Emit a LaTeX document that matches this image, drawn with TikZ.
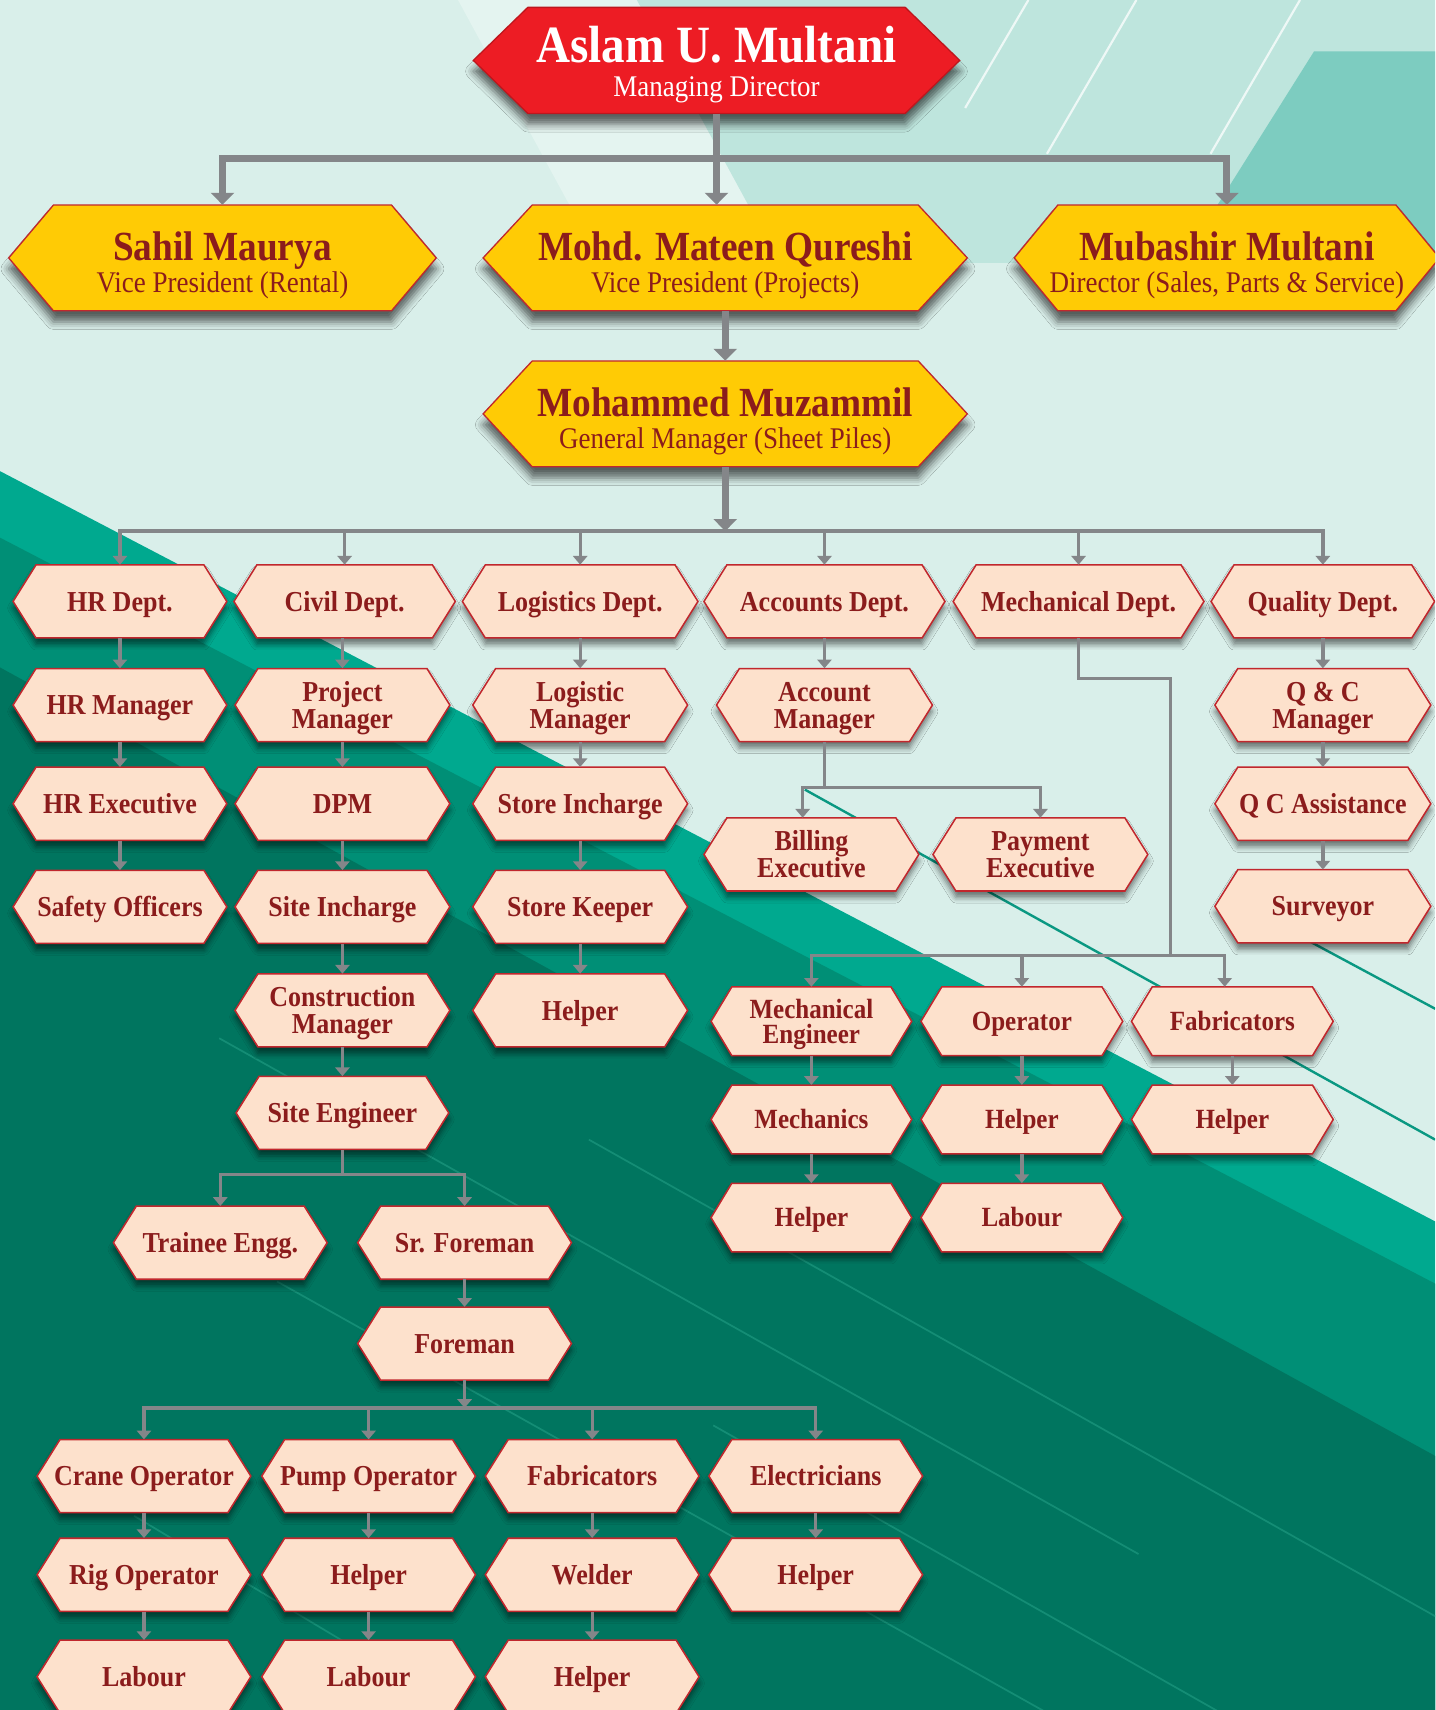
\documentclass[tikz,border=0pt]{standalone}
\usepackage{fontspec}
\setmainfont{Liberation Serif}[FakeStretch=0.9]
\usetikzlibrary{arrows.meta,shadows.blur,calc}

\definecolor{mint}{HTML}{D9EFEA}
\definecolor{mintlight}{HTML}{E4F4F0}
\definecolor{paleteal}{HTML}{BEE5DD}
\definecolor{midteal}{HTML}{7DCCC0}
\definecolor{brteal}{HTML}{00A98F}
\definecolor{mdteal}{HTML}{008F76}
\definecolor{dkteal}{HTML}{00755F}
\definecolor{dlinec}{HTML}{148D75}
\definecolor{tlinec}{HTML}{0A9882}
\definecolor{wlinec}{HTML}{EEF8F6}
\definecolor{peach}{HTML}{FDE1CC}
\definecolor{bord}{HTML}{C1272D}
\definecolor{txtred}{HTML}{8B1C1C}
\definecolor{gold}{HTML}{FFCB05}
\definecolor{topred}{HTML}{ED1C24}
\definecolor{connc}{HTML}{848689}

\newcommand\nfont{\fontsize{26.5}{24.5}\selectfont\bfseries}
\newcommand\mfont{\fontsize{25.5}{23}\selectfont\bfseries}
\newcommand\twoline[3][24.5pt]{\vtop{\baselineskip=#1\lineskiplimit=-100pt\lineskip=0pt\halign{\hfil##\hfil\cr#2\cr#3\cr}}}

\tikzset{
  hexA/.style={fill=peach, draw=bord, line width=1.4pt,
    blur shadow={shadow xshift=0pt, shadow yshift=-6pt, shadow blur radius=5pt, shadow opacity=50}},
  hexY/.style={fill=gold, draw=bord, line width=1.2pt,
    blur shadow={shadow xshift=0pt, shadow yshift=-10pt, shadow blur radius=7pt, shadow opacity=60}},
  hexR/.style={fill=topred, draw=topred!80!black, line width=1.2pt,
    blur shadow={shadow xshift=0pt, shadow yshift=-10pt, shadow blur radius=7pt, shadow opacity=60}},
  box/.style={rectangle, inner sep=0pt},
  lbl/.style={box, text=txtred, font=\nfont, text height=17.8pt, text depth=0pt},
  lbltwo/.style={lbl, text depth=24.5pt},
  mlbl/.style={lbl, font=\mfont, text height=17.1pt},
  mlbltwo/.style={mlbl, text depth=23pt},
  bigname/.style={box, anchor=base, text=txtred, font=\fontsize{38}{40}\selectfont\bfseries},
  bigsub/.style={box, anchor=base, text=txtred, font=\fontsize{27.5}{30}\selectfont},
  thinc/.style={draw=connc, line width=3pt},
  heavyc/.style={draw=connc, line width=6.5pt},
  smallhead/.tip={Triangle[width=13pt,length=8pt]},
  bighead/.tip={Triangle[width=21pt,length=11pt]},
  dline/.style={draw=dlinec, line width=1.6pt},
  tline/.style={draw=tlinec, line width=2.2pt},
  wline/.style={draw=wlinec, line width=2pt},
}

% style, x, y, w, h, slant
\newcommand\hexpath[6]{%
  \path[#1] ({#2-#4/2},#3) -- ({#2-#4/2+#6},{#3-#5/2}) -- ({#2+#4/2-#6},{#3-#5/2})
    -- ({#2+#4/2},#3) -- ({#2+#4/2-#6},{#3+#5/2}) -- ({#2-#4/2+#6},{#3+#5/2}) -- cycle;}
\newcommand\hexS[5]{%
  \hexpath{hexA}{#2}{#3}{#4}{67}{21}
  \node[lbl, minimum width=#4pt, minimum height=67pt] (#1) at (#2,#3) {#5};}
\newcommand\hexT[6]{%
  \hexpath{hexA}{#2}{#3}{#4}{67}{21}
  \node[lbltwo, minimum width=#4pt, minimum height=67pt] (#1) at (#2,#3) {\twoline{#5}{#6}};}
\newcommand\hexM[5]{%
  \hexpath{hexA}{#2}{#3}{#4}{63}{19}
  \node[mlbl, minimum width=#4pt, minimum height=63pt] (#1) at (#2,#3) {#5};}

\begin{document}
\begin{tikzpicture}[x=1pt,y=-1pt]
\useasboundingbox (0,0) rectangle (1316,1568);
\clip (0,0) rectangle (1316,1568);

% ---------- background ----------
\fill[mint] (0,0) rectangle (1316,1568);
\fill[mintlight] (420,0) -- (584,0) -- (715,241) -- (551,241) -- cycle;
\fill[paleteal] (584,0) -- (1316,0) -- (1316,241) -- (715,241) -- cycle;
\fill[midteal] (1205,47) -- (1316,47) -- (1316,241) -- (1083,241) -- cycle;
\draw[wline] (885,99) -- (943,0);
\draw[wline] (960,141) -- (1042,0);
\draw[wline] (1110,141) -- (1192,0);
\fill[brteal] (0,432) -- (1316,1120) -- (1316,1568) -- (0,1568) -- cycle;
\fill[mdteal] (0,493) -- (1316,1177) -- (1316,1568) -- (0,1568) -- cycle;
\fill[dkteal] (0,612) -- (1316,1335) -- (1316,1568) -- (0,1568) -- cycle;
\draw[dline] (201,952) -- (1044,1425);
\draw[dline] (254,1175) -- (1316,1770);
\draw[dline] (654,1307) -- (1316,1682);
\draw[dline] (540,1045) -- (1316,1482);
\draw[dline] (123,1390) -- (420,1568);
\draw[tline] (738,724) -- (1316,1045);
\draw[tline] (1180,852) -- (1316,925);

% ---------- top level ----------
\hexpath{hexR}{657}{55.4}{446}{97.3}{50}
\node[box, minimum width=446pt, minimum height=97.3pt] (aslam) at (657,55.4) {};
\node[box, anchor=base, text=white, font=\fontsize{48}{50}\selectfont\bfseries] (aslamN) at ($(aslam.center)+(0,2)$) {Aslam U. Multani};
\node[box, anchor=base, text=white, font=\fontsize{27.5}{30}\selectfont] (aslamS) at ($(aslam.center)+(0,33)$) {Managing Director};

\hexpath{hexY}{204}{236.5}{392}{97}{41}
\node[box, minimum width=392pt, minimum height=97pt] (sahil) at (204,236.5) {};
\node[bigname] (sahilN) at ($(sahil.center)+(0,2.5)$) {Sahil Maurya};
\node[bigsub] (sahilS) at ($(sahil.center)+(0,32)$) {Vice President (Rental)};

\hexpath{hexY}{665}{236.5}{444}{97}{45}
\node[box, minimum width=444pt, minimum height=97pt] (qureshi) at (665,236.5) {};
\node[bigname] (qureshiN) at ($(qureshi.center)+(0,2.5)$) {Mohd. Mateen Qureshi};
\node[bigsub] (qureshiS) at ($(qureshi.center)+(0,32)$) {Vice President (Projects)};

\hexpath{hexY}{1125}{236.5}{390}{97}{40}
\node[box, minimum width=390pt, minimum height=97pt] (mub) at (1125,236.5) {};
\node[bigname] (mubN) at ($(mub.center)+(0,2.5)$) {Mubashir Multani};
\node[bigsub] (mubS) at ($(mub.center)+(0,32)$) {Director (Sales, Parts \& Service)};

\hexpath{hexY}{665}{379.5}{444}{97}{45}
\node[box, minimum width=444pt, minimum height=97pt] (gm) at (665,379.5) {};
\node[bigname] (gmN) at ($(gm.center)+(0,2.5)$) {Mohammed Muzammil};
\node[bigsub] (gmS) at ($(gm.center)+(0,32)$) {General Manager (Sheet Piles)};

% ---------- departments ----------
\hexS{hr}{110}{551.5}{196}{HR Dept.}
\hexS{civil}{316}{551.5}{203}{Civil Dept.}
\hexS{logi}{532}{551.5}{216}{Logistics Dept.}
\hexS{acc}{756}{551.5}{221}{Accounts Dept.}
\hexS{mech}{989}{551.5}{230}{Mechanical Dept.}
\hexS{qual}{1213}{551.5}{205}{Quality Dept.}

\hexS{hrm}{110}{646.5}{196}{HR Manager}
\hexT{pm}{314}{646.5}{197}{Project}{Manager}
\hexT{lm}{532}{646.5}{197}{Logistic}{Manager}
\hexT{am}{756}{646.5}{198}{Account}{Manager}
\hexT{qcm}{1213}{646.5}{198}{Q \& C}{Manager}

\hexS{hre}{110}{737}{196}{HR Executive}
\hexS{dpm}{314}{737}{197}{DPM}
\hexS{si}{532}{737}{197}{Store Incharge}
\hexS{qca}{1213}{737}{198}{Q C Assistance}

\hexT{bill}{744}{783.5}{197}{Billing}{Executive}
\hexT{pay}{954}{783.5}{197}{Payment}{Executive}

\hexS{safety}{110}{831.5}{196}{Safety Officers}
\hexS{sinc}{314}{831.5}{197}{Site Incharge}
\hexS{skeep}{532}{831.5}{197}{Store Keeper}
\hexS{surv}{1213}{831}{198}{Surveyor}

\hexT{cm}{314}{926.5}{197}{Construction}{Manager}
\hexS{lhelp}{532}{926.5}{197}{Helper}

\hexpath{hexA}{744}{936.5}{184}{63}{19}
\node[mlbltwo, minimum width=184pt, minimum height=63pt] (meng) at (744,936.5) {\twoline[23pt]{Mechanical}{Engineer}};
\hexM{mop}{937}{936.5}{185}{Operator}
\hexM{mfab}{1130}{936.5}{185}{Fabricators}
\hexM{mechs}{744}{1026.5}{184}{Mechanics}
\hexM{ophelp}{937}{1026.5}{185}{Helper}
\hexM{fabhelp}{1130}{1026.5}{185}{Helper}
\hexM{mhelper}{744}{1116.5}{184}{Helper}
\hexM{oplabour}{937}{1116.5}{185}{Labour}

\hexS{seng}{314}{1020.5}{195}{Site Engineer}
\hexS{trainee}{202}{1139.5}{196}{Trainee Engg.}
\hexS{srf}{426}{1139.5}{196}{Sr. Foreman}
\hexS{foreman}{426}{1232}{196}{Foreman}

\hexS{crane}{132}{1353.5}{196}{Crane Operator}
\hexS{pump}{338}{1353.5}{196}{Pump Operator}
\hexS{cfab}{543}{1353.5}{196}{Fabricators}
\hexS{elec}{748}{1353.5}{196}{Electricians}
\hexS{rig}{132}{1444}{196}{Rig Operator}
\hexS{phelp}{338}{1444}{196}{Helper}
\hexS{welder}{543}{1444}{196}{Welder}
\hexS{ehelp}{748}{1444}{196}{Helper}
\hexS{lab1}{132}{1537.5}{196}{Labour}
\hexS{lab2}{338}{1537.5}{196}{Labour}
\hexS{whelp}{543}{1537.5}{196}{Helper}

% ---------- connectors ----------
\coordinate (topbus) at (0,145);
\draw[heavyc, bighead-bighead] (sahil.north) -- (sahil.north |- topbus) -- (mub.north |- topbus) -- (mub.north);
\draw[heavyc, -bighead] (aslam.south) -- (aslam.south |- qureshi.north);
\draw[heavyc, -bighead] (qureshi.south) -- (gm.north);

\coordinate (deptbus) at (0,487);
\draw[thinc, smallhead-smallhead] (hr.north) -- (hr.north |- deptbus) -- (qual.north |- deptbus) -- (qual.north);
\foreach \n in {civil,logi,acc,mech} \draw[thinc,-smallhead] (\n.north |- deptbus) -- (\n.north);
\draw[heavyc, -bighead] (gm.south) -- (gm.south |- deptbus);

\foreach \a/\b in {hr/hrm, hrm/hre, hre/safety, civil/pm, pm/dpm, dpm/sinc, sinc/cm, cm/seng,
  logi/lm, lm/si, si/skeep, skeep/lhelp, acc/am, qual/qcm, qcm/qca, qca/surv,
  meng/mechs, mechs/mhelper, mop/ophelp, ophelp/oplabour, mfab/fabhelp, srf/foreman,
  crane/rig, rig/lab1, pump/phelp, phelp/lab2, cfab/welder, welder/whelp, elec/ehelp}
  \draw[thinc,-smallhead] (\a.south -| \b.north) -- (\b.north);

\coordinate (accbus) at (0,722);
\coordinate (billtop) at ($(bill.north)+(-8,0)$);
\draw[thinc] (am.south) -- (am.south |- accbus);
\draw[thinc, smallhead-smallhead] (billtop) -- (billtop |- accbus) -- (pay.north |- accbus) -- (pay.north);

\coordinate (mechA) at (1073,622);
\coordinate (mechbus) at (0,876);
\coordinate (fabtop) at ($(mfab.north)+(-7,0)$);
\draw[thinc] (mech.south) |- (mechA) -- (mechA |- mechbus);
\draw[thinc, smallhead-smallhead] (meng.north) -- (meng.north |- mechbus) -- (fabtop |- mechbus) -- (fabtop);
\draw[thinc,-smallhead] (mop.north |- mechbus) -- (mop.north);

\coordinate (sebus) at (0,1077);
\draw[thinc] (seng.south) -- (seng.south |- sebus);
\draw[thinc, smallhead-smallhead] (trainee.north) -- (trainee.north |- sebus) -- (srf.north |- sebus) -- (srf.north);

\coordinate (fbus) at (0,1291);
\draw[thinc,-smallhead] (foreman.south) -- (foreman.south |- fbus);
\draw[thinc, smallhead-smallhead] (crane.north) -- (crane.north |- fbus) -- (elec.north |- fbus) -- (elec.north);
\foreach \n in {pump,cfab} \draw[thinc,-smallhead] (\n.north |- fbus) -- (\n.north);
\end{tikzpicture}
\end{document}
